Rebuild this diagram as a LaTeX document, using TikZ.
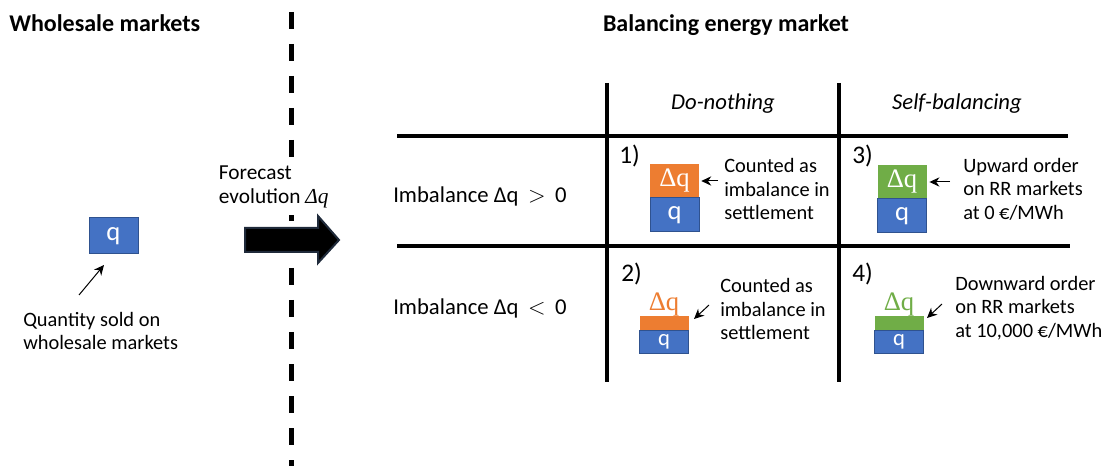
\documentclass[tikz,border=0pt]{standalone}
\usepackage{fontspec}
\setmainfont{Carlito}
\newfontfamily\serifgr{Liberation Serif}
\usetikzlibrary{arrows.meta}
\definecolor{qblue}{HTML}{4472C4}
\definecolor{qborder}{HTML}{2F528F}
\definecolor{qorange}{HTML}{ED7D31}
\definecolor{qgreen}{HTML}{70AD47}
\definecolor{navy}{HTML}{1F2A3A}
\begin{document}
\begin{tikzpicture}[x=0.75pt,y=-0.75pt,
  body/.style={font=\fontsize{15.3}{17.6}\selectfont, align=left, inner sep=0pt, anchor=west},
  big/.style={font=\fontsize{17}{20}\selectfont, inner sep=0pt},
  title/.style={font=\bfseries\fontsize{18}{22}\selectfont, inner sep=0pt},
  gridline/.style={line width=3pt},
  qbox/.style={fill=qblue, draw=qborder, line width=0.75pt, text=white, minimum width=36.75pt, inner sep=0pt, font=\fontsize{20}{20}\selectfont},
  dbox/.style={draw=none, minimum width=36.75pt, inner sep=0pt, text=white, font=\serifgr\fontsize{20}{20}\selectfont},
  dlabel/.style={inner sep=0pt, font=\serifgr\fontsize{20}{20}\selectfont},
  pointer/.style={-{Stealth[length=7.5pt,width=7pt]}, line width=0.75pt}]
\useasboundingbox (0,0) rectangle (1109,466);

% titles
\node[title, anchor=west] (t1) at (9,23) {Wholesale markets};
\node[title] (t2) at (726,25) {Balancing energy market};

% dashed separator
\draw[line width=3.75pt, dash pattern=on 12.75pt off 11.25pt] (291,12) -- (291,466);

% forecast label and big arrow
\node[body, fill=white, inner xsep=2pt, inner ysep=5pt, font=\fontsize{16}{18.5}\selectfont] (fc) at (216,187) {Forecast\\evolution {\serifgr\itshape Δq}};
\draw[fill=black, draw=navy, line width=1.5pt] (245,228) -- (318,228) -- (318,216) -- (339,240) -- (318,263) -- (318,252) -- (245,252) -- cycle;

% left part
\node[qbox, minimum height=27pt] (q0) at (113.5,236) {q};
\node[body] (qs) at (23,331) {Quantity sold on\\wholesale markets};
\coordinate (qsa) at (79,295);
\draw[pointer] (qsa) -- (104,265);

% table grid
\draw[gridline] (397,136) -- (1068,136);
\draw[gridline] (397,246) -- (1070,246);
\draw[gridline] (607,83) -- (607,382);
\draw[gridline] (839,83) -- (839,382);

% headers
\node[big, font=\itshape\fontsize{17}{20}\selectfont] (h1) at (723,104) {Do-nothing};
\node[big, font=\itshape\fontsize{17}{20}\selectfont] (h2) at (957,104) {Self-balancing};
\node[big, anchor=west] (r1) at (393,196) {Imbalance Δq\hspace{0.42em}\(>\)\hspace{0.42em}0};
\node[big, anchor=west] (r2) at (393,308) {Imbalance Δq\hspace{0.42em}\(<\)\hspace{0.42em}0};

% cell 1
\node[big, anchor=west, font=\fontsize{19}{20}\selectfont] (n1) at (619,156) {1)};
\node[dbox, fill=qorange, minimum height=25.5pt] (d1) at (674.5,181) {Δq};
\node[qbox, minimum height=25.5pt] (b1) at (674.5,215) {q};
\node[body] (c1) at (724,189) {Counted as\\imbalance in\\settlement};
\coordinate (c1a) at (718,181);
\draw[pointer] (c1a) -- ([xshift=1.5pt]d1.east);

% cell 3
\node[big, anchor=west, font=\fontsize{19}{20}\selectfont] (n3) at (852,156) {3)};
\node[dbox, fill=qgreen, minimum height=25.5pt] (d3) at (902,182) {Δq};
\node[qbox, minimum height=25.5pt] (b3) at (902,216) {q};
\node[body] (c3) at (963,189) {Upward order\\on RR markets\\at 0 €/MWh};
\coordinate (c3a) at (950,182);
\draw[pointer] (c3a) -- ([xshift=2pt]d3.east);

% cell 2
\node[big, anchor=west, font=\fontsize{19}{20}\selectfont] (n2) at (621,274) {2)};
\node[draw=none, fill=qorange, minimum width=36.75pt, minimum height=11.25pt, inner sep=0pt] (d2) at (664,323.5) {};
\node[qbox, minimum height=16.5pt, font=\fontsize{17}{17}\selectfont] (b2) at (664,342) {q};
\node[dlabel, text=qorange, anchor=south] (l2) at (664,316) {Δq};
\node[body] (c2) at (720,309) {Counted as\\imbalance in\\settlement};
\coordinate (c2a) at (709,305);
\draw[pointer] (c2a) -- (694,319);

% cell 4
\node[big, anchor=west, font=\fontsize{19}{20}\selectfont] (n4) at (852,274) {4)};
\node[draw=none, fill=qgreen, minimum width=36.75pt, minimum height=11.25pt, inner sep=0pt] (d4) at (899,323.5) {};
\node[qbox, minimum height=16.5pt, font=\fontsize{17}{17}\selectfont] (b4) at (899,342) {q};
\node[dlabel, text=qgreen, anchor=south] (l4) at (899,316) {Δq};
\node[body] (c4) at (955,308) {Downward order\\on RR markets\\at 10,000 €/MWh};
\coordinate (c4a) at (942,304);
\draw[pointer] (c4a) -- (927,318);
\end{tikzpicture}
\end{document}
